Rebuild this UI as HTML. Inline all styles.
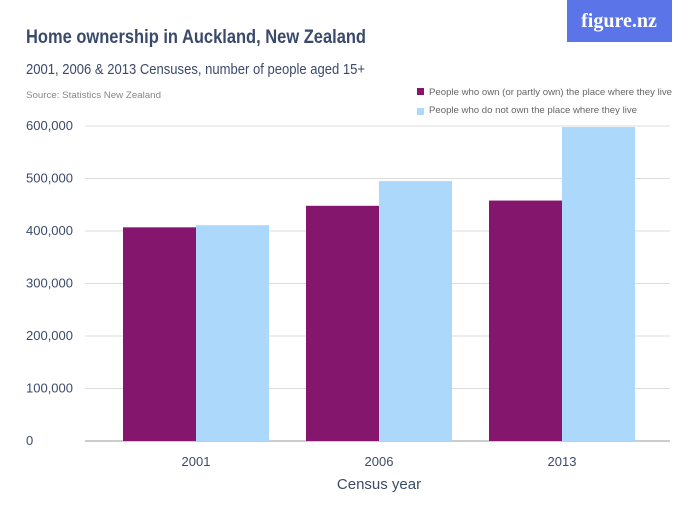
<!DOCTYPE html>
<html><head><meta charset="utf-8"><style>
body{margin:0;background:#fff;font-family:"Liberation Sans",sans-serif;}
</style></head><body>
<svg width="700" height="525" xmlns="http://www.w3.org/2000/svg">
<rect x="567" y="0" width="105" height="42" fill="#5b74e8"/>
<text x="619" y="27" font-family="Liberation Serif,serif" font-weight="bold" font-size="20" fill="#fff" text-anchor="middle">figure.nz</text>
<text x="26" y="43" font-size="19" font-weight="bold" fill="#3b4a6b" textLength="340" lengthAdjust="spacingAndGlyphs">Home ownership in Auckland, New Zealand</text>
<text x="26" y="74" font-size="15" fill="#3b4a6b" textLength="339" lengthAdjust="spacingAndGlyphs">2001, 2006 &amp; 2013 Censuses, number of people aged 15+</text>
<text x="26" y="98" font-size="9" fill="#888" textLength="135" lengthAdjust="spacingAndGlyphs">Source: Statistics New Zealand</text>
<rect x="417" y="88" width="7" height="7" fill="#85166e"/>
<text x="429" y="95" font-size="9.5" fill="#666" textLength="243" lengthAdjust="spacingAndGlyphs">People who own (or partly own) the place where they live</text>
<rect x="417" y="108" width="7" height="7" fill="#acd8fb"/>
<text x="429" y="113" font-size="9.5" fill="#666" textLength="208" lengthAdjust="spacingAndGlyphs">People who do not own the place where they live</text>
<g id="grid"></g><g id="bars"></g><g id="labels"></g>
<text x="379" y="489" font-size="15" fill="#3b4a6b" text-anchor="middle">Census year</text>
</svg>
<script>
const categories=["2001","2006","2013"];
const ownValues=[407000,448000,458000];
const notOwnValues=[411000,495000,598000];
const yTicks=[0,100000,200000,300000,400000,500000,600000];
const tickLabels=["0","100,000","200,000","300,000","400,000","500,000","600,000"];
const NS="http://www.w3.org/2000/svg";
const y=v=>441-v/600000*315;
const xc=i=>196+i*183;
function mk(tag,attrs,parent){const e=document.createElementNS(NS,tag);for(const k in attrs)e.setAttribute(k,attrs[k]);document.getElementById(parent).appendChild(e);return e;}
yTicks.forEach((t,i)=>{
 const l=mk('line',{x1:85,x2:670,y1:y(t),y2:y(t),stroke:i==0?'#999':'#ddd','stroke-width':1},'grid');
 
 
 const tx=mk('text',{x:26,y:y(t)+4,'font-size':13,fill:'#3b4a6b'},'labels');
 tx.textContent=tickLabels[i];
 
 
});
categories.forEach((c,i)=>{
 const b1=mk('rect',{x:xc(i)-73,y:y(ownValues[i]),width:73,height:441-y(ownValues[i]),fill:'#85166e'},'bars');
 
 
 const b2=mk('rect',{x:xc(i),y:y(notOwnValues[i]),width:73,height:441-y(notOwnValues[i]),fill:'#acd8fb'},'bars');
 
 
 const t=mk('text',{x:xc(i),y:466,'font-size':13,fill:'#3b4a6b','text-anchor':'middle'},'labels');
 t.textContent=c;
 
 
});
</script>
</body></html>
